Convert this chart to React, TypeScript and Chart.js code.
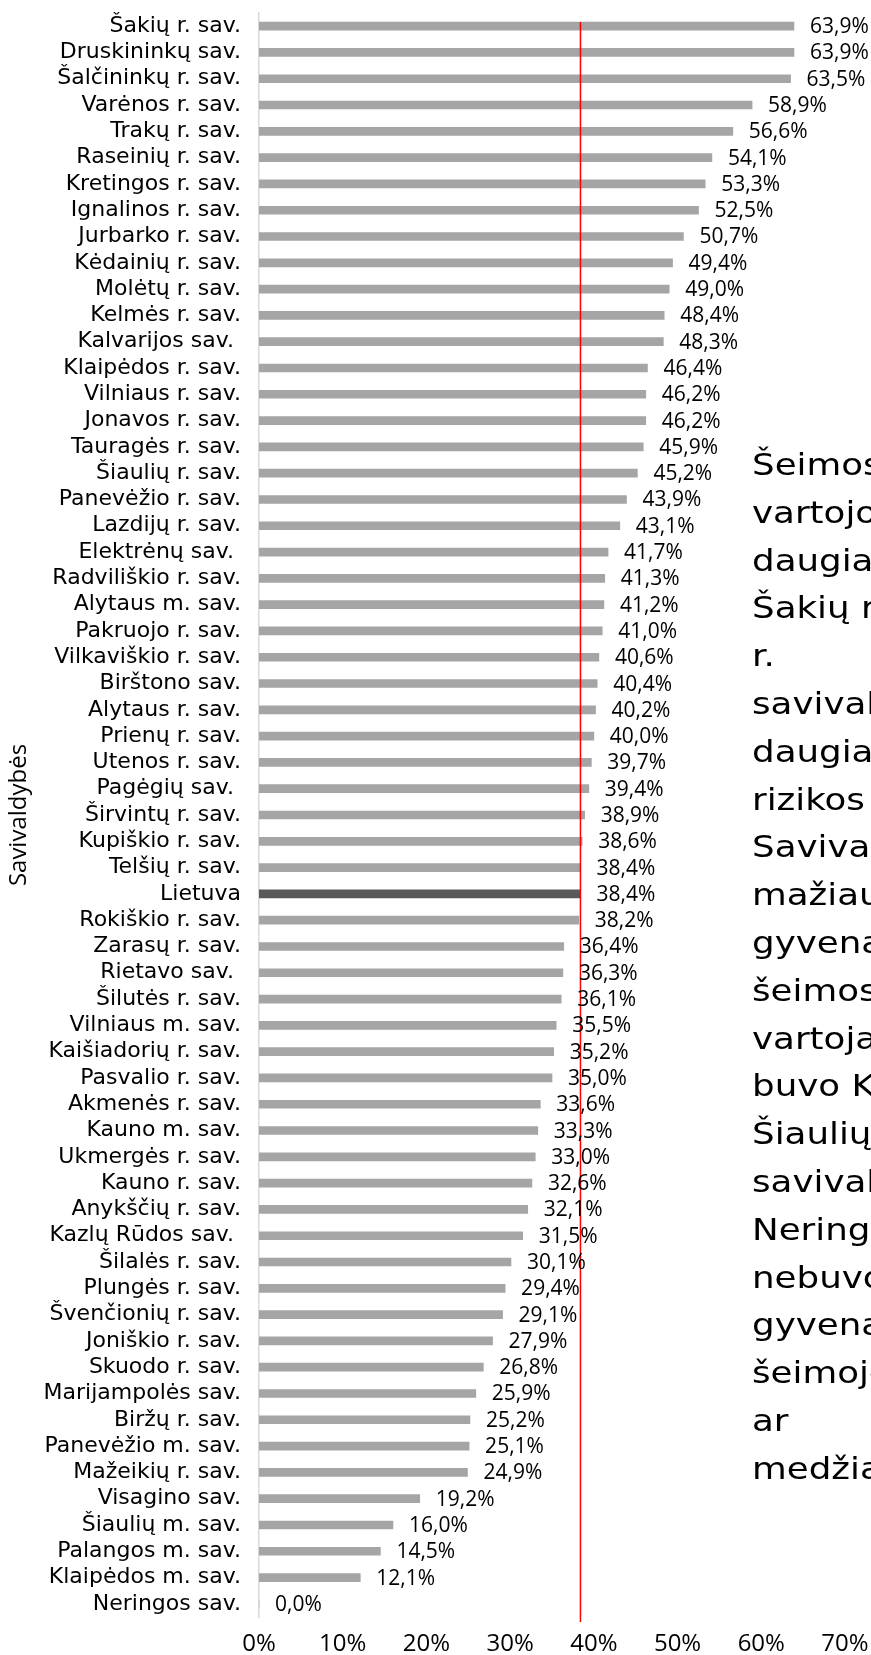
import React, { useEffect, useRef } from 'react';
import { Chart, registerables } from 'chart.js';

Chart.register(...registerables);

const categories: string[] = [
  'Šakių r. sav.', 'Druskininkų sav.', 'Šalčininkų r. sav.', 'Varėnos r. sav.', 'Trakų r. sav.',
  'Raseinių r. sav.', 'Kretingos r. sav.', 'Ignalinos r. sav.', 'Jurbarko r. sav.', 'Kėdainių r. sav.',
  'Molėtų r. sav.', 'Kelmės r. sav.', 'Kalvarijos sav. ', 'Klaipėdos r. sav.', 'Vilniaus r. sav.',
  'Jonavos r. sav.', 'Tauragės r. sav.', 'Šiaulių r. sav.', 'Panevėžio r. sav.', 'Lazdijų r. sav.',
  'Elektrėnų sav. ', 'Radviliškio r. sav.', 'Alytaus m. sav.', 'Pakruojo r. sav.', 'Vilkaviškio r. sav.',
  'Birštono sav.', 'Alytaus r. sav.', 'Prienų r. sav.', 'Utenos r. sav.', 'Pagėgių sav. ',
  'Širvintų r. sav.', 'Kupiškio r. sav.', 'Telšių r. sav.', 'Lietuva', 'Rokiškio r. sav.',
  'Zarasų r. sav.', 'Rietavo sav. ', 'Šilutės r. sav.', 'Vilniaus m. sav.', 'Kaišiadorių r. sav.',
  'Pasvalio r. sav.', 'Akmenės r. sav.', 'Kauno m. sav.', 'Ukmergės r. sav.', 'Kauno r. sav.',
  'Anykščių r. sav.', 'Kazlų Rūdos sav. ', 'Šilalės r. sav.', 'Plungės r. sav.', 'Švenčionių r. sav.',
  'Joniškio r. sav.', 'Skuodo r. sav.', 'Marijampolės sav.', 'Biržų r. sav.', 'Panevėžio m. sav.',
  'Mažeikių r. sav.', 'Visagino sav.', 'Šiaulių m. sav.', 'Palangos m. sav.', 'Klaipėdos m. sav.',
  'Neringos sav.',
];

const values: number[] = [
  63.9, 63.9, 63.5, 58.9, 56.6,
  54.1, 53.3, 52.5, 50.7, 49.4,
  49.0, 48.4, 48.3, 46.4, 46.2,
  46.2, 45.9, 45.2, 43.9, 43.1,
  41.7, 41.3, 41.2, 41.0, 40.6,
  40.4, 40.2, 40.0, 39.7, 39.4,
  38.9, 38.6, 38.4, 38.4, 38.2,
  36.4, 36.3, 36.1, 35.5, 35.2,
  35.0, 33.6, 33.3, 33.0, 32.6,
  32.1, 31.5, 30.1, 29.4, 29.1,
  27.9, 26.8, 25.9, 25.2, 25.1,
  24.9, 19.2, 16.0, 14.5, 12.1,
  0.0,
];

const xTickValues: number[] = [0, 10, 20, 30, 40, 50, 60, 70];
const nationalLabel = 'Lietuva';
const nationalAverage = 38.4;
const yAxisTitle = 'Savivaldybės';

const noteLines: string[] = [
  'Šeimos, kurių nariai',
  'vartojo alkoholį,',
  'daugiausia buvo',
  'Šakių r., Druskininkų',
  'r.',
  'savivaldybėse,',
  'daugiausia',
  'rizikos šeimų.',
  'Savivaldybės,',
  'mažiausia',
  'gyvenančių',
  'šeimos,',
  'vartojančių',
  'buvo Klaipėdos',
  'Šiaulių m.',
  'savivaldybės.',
  'Neringos',
  'nebuvo',
  'gyvenančių',
  'šeimoje',
  'ar',
  'medžiagas.',
];

export default function App() {
  const canvasRef = useRef<HTMLCanvasElement>(null);

  useEffect(() => {
    document.body.style.margin = '0';
    const canvas = canvasRef.current;
    if (!canvas) return;

    const colors = categories.map((c) => (c === nationalLabel ? '#595959' : '#A5A5A5'));

    const averageLine = {
      id: 'averageLine',
      afterDatasetsDraw(chart: any) {
        const { ctx, chartArea, scales } = chart;
        const x = scales.x.getPixelForValue(nationalAverage);
        ctx.save();
        ctx.strokeStyle = '#FF0000';
        ctx.lineWidth = 1.5;
        ctx.beginPath();
        ctx.moveTo(x, chartArea.top + 9);
        ctx.lineTo(x, chartArea.bottom + 5);
        ctx.stroke();
        ctx.restore();
      },
    };

    const valueLabels = {
      id: 'valueLabels',
      afterDatasetsDraw(chart: any) {
        const { ctx } = chart;
        const meta = chart.getDatasetMeta(0);
        ctx.save();
        ctx.font = '21px "Open Sans"';
        ctx.fillStyle = '#000000';
        ctx.textAlign = 'left';
        ctx.textBaseline = 'middle';
        meta.data.forEach((bar: any, i: number) => {
          const txt = values[i].toFixed(1).replace('.', ',') + '%';
          ctx.fillText(txt, bar.x + 16, bar.y + 1);
        });
        ctx.restore();
      },
    };

    const chart = new Chart(canvas, {
      type: 'bar',
      data: {
        labels: categories,
        datasets: [
          {
            data: values,
            backgroundColor: colors,
            barThickness: 8,
            borderWidth: 0,
          },
        ],
      },
      options: {
        indexAxis: 'y',
        responsive: false,
        maintainAspectRatio: false,
        animation: false,
        layout: { padding: { top: 13, right: 26, bottom: 0, left: 0 } },
        plugins: {
          legend: { display: false },
          tooltip: { enabled: false },
        },
        scales: {
          x: {
            type: 'linear',
            position: 'bottom',
            min: 0,
            max: 70,
            grid: { display: false, drawTicks: false },
            border: { display: false },
            afterBuildTicks: (scale: any) => {
              scale.ticks = xTickValues.map((v) => ({ value: v }));
            },
            ticks: {
              autoSkip: false,
              maxRotation: 0,
              padding: 13,
              color: '#000000',
              font: { family: 'Open Sans', size: 24 },
              callback: (v: any) => `${v}%`,
            },
            afterFit: (scale: any) => {
              scale.height = 38;
              scale.paddingLeft = 0;
              scale.paddingRight = 0;
            },
          },
          y: {
            type: 'category',
            grid: { display: false, drawTicks: false },
            border: { display: true, color: '#D9D9D9', width: 1.5 },
            ticks: {
              autoSkip: false,
              padding: 18,
              color: '#000000',
              font: { family: 'DejaVu Sans', size: 22 },
            },
            title: {
              display: true,
              text: yAxisTitle,
              color: '#000000',
              font: { family: 'Open Sans', size: 24 },
              padding: { top: 5, bottom: 0 },
            },
            afterFit: (scale: any) => {
              scale.width = 259;
              scale.paddingTop = 0;
              scale.paddingBottom = 0;
            },
          },
        },
      },
      plugins: [averageLine, valueLabels],
    });

    return () => chart.destroy();
  }, []);

  return (
    <div
      style={{
        position: 'relative',
        width: 871,
        height: 1655,
        overflow: 'hidden',
        background: '#ffffff',
      }}
    >
      <canvas
        ref={canvasRef}
        width={871}
        height={1655}
        style={{ position: 'absolute', left: 0, top: 0, width: 871, height: 1655 }}
      />
      <div
        style={{
          position: 'absolute',
          left: 752,
          top: 441,
          fontFamily: '"DejaVu Sans", Verdana, sans-serif',
          fontSize: 31,
          lineHeight: '47.8px',
          color: '#000000',
          whiteSpace: 'nowrap',
          transform: 'scaleX(1.15)',
          transformOrigin: 'left top',
        }}
      >
        {noteLines.map((line, i) => (
          <div key={i}>{line}</div>
        ))}
      </div>
    </div>
  );
}
